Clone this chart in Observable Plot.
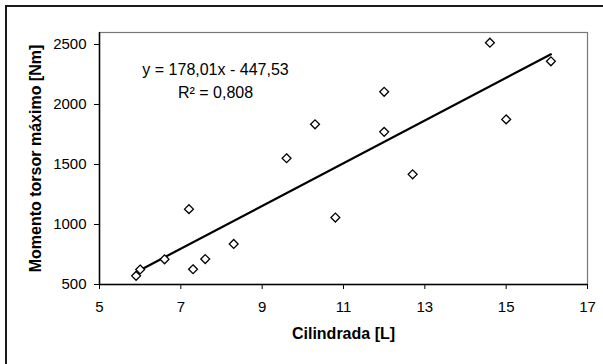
<!DOCTYPE html>
<html>
<head>
<meta charset="utf-8">
<script src="https://cdn.jsdelivr.net/npm/d3@7"></script>
<script src="https://cdn.jsdelivr.net/npm/@observablehq/plot@0.6"></script>
<style>
  html, body { margin: 0; padding: 0; background: #fff; }
  #wrap { position: relative; width: 603px; height: 364px; overflow: hidden; }
  #outer { position: absolute; left: 5px; top: 5px; width: 620px; height: 400px;
           border-left: 2px solid #1a1a1a; border-top: 2px solid #1a1a1a; box-sizing: border-box; }
  #chart { position: absolute; left: 0; top: 0; }
</style>
</head>
<body>
<div id="wrap"><div id="outer"></div><div id="chart"></div></div>
<script>
// Data
const cilindrada = [5.9, 6.0, 6.6, 7.2, 7.3, 7.6, 8.3, 9.6, 10.3, 10.8, 12.0, 12.0, 12.7, 14.6, 15.0, 16.1];
const momento    = [572, 625, 710, 1128, 627, 712, 838, 1552, 1835, 1058, 2106, 1772, 1418, 2515, 1876, 2360];
const xTicks = [5, 7, 9, 11, 13, 15, 17];
const yTicks = [500, 1000, 1500, 2000, 2500];
const slope = 178.01;
const intercept = -447.53;
const equationText = "y = 178,01x - 447,53";
const r2Text = "R² = 0,808";
const xTitle = "Cilindrada [L]";
const yTitle = "Momento torsor máximo [Nm]";

const points = cilindrada.map((x, i) => ({x, y: momento[i]}));
const [xmin, xmax] = d3.extent(cilindrada);
const trend = [xmin, xmax].map(x => ({x, y: slope * x + intercept}));

const font = "'Liberation Sans', Arial, Helvetica, sans-serif";

const chart = Plot.plot({
  width: 603,
  height: 364,
  marginLeft: 99,
  marginRight: 16,
  marginTop: 32,
  marginBottom: 80,
  style: {fontFamily: font, fontSize: "15px", background: "transparent", color: "#000"},
  x: {domain: [5, 17]},
  y: {domain: [500, 2600]},
  marks: [
    Plot.frame({stroke: "#777", strokeWidth: 1.2}),
    Plot.axisY({ticks: yTicks, tickSize: 5, tickPadding: 8, label: null, fontSize: 15, tickFormat: d => String(d), stroke: "#000"}),
    Plot.axisX({ticks: xTicks, tickSize: 5, tickPadding: 12, label: null, fontSize: 15, tickFormat: d => String(d), stroke: "#000"}),
    Plot.ruleX([5], {stroke: "#000", strokeWidth: 1.5}),
    Plot.ruleY([500], {stroke: "#000", strokeWidth: 1.5}),
    Plot.line(trend, {x: "x", y: "y", stroke: "#000", strokeWidth: 2.2}),
    Plot.dot(points, {x: "x", y: "y", symbol: "diamond2", r: 4, stroke: "#000", strokeWidth: 1.3, fill: "#fff"}),
    Plot.text([equationText], {text: d => d, frameAnchor: "top-left", dx: 116, dy: 31, textAnchor: "middle", fontSize: 16, fill: "#000"}),
    Plot.text([r2Text], {text: d => d, frameAnchor: "top-left", dx: 116, dy: 54, textAnchor: "middle", fontSize: 16, fill: "#000"}),
    Plot.text([xTitle], {text: d => d, frameAnchor: "bottom", dy: 54, textAnchor: "middle", fontSize: 16, fontWeight: "bold", fill: "#000"}),
    Plot.text([yTitle], {text: d => d, frameAnchor: "left", dx: -64, rotate: -90, textAnchor: "middle", fontSize: 16, fontWeight: "bold", fill: "#000"})
  ]
});
document.getElementById("chart").appendChild(chart);
</script>
</body>
</html>
